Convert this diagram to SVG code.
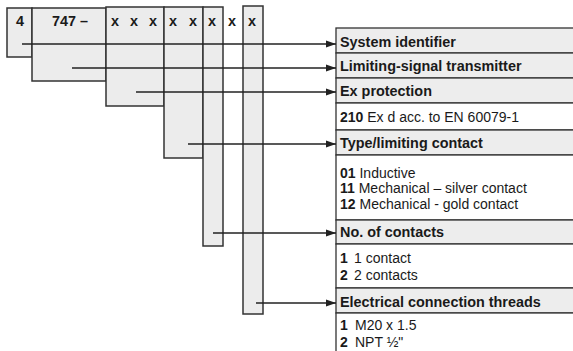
<svg xmlns="http://www.w3.org/2000/svg" width="573" height="351" viewBox="0 0 573 351">
<defs>
<style>
.box{fill:#ececec;stroke:#333;stroke-width:1.5}
.hdr{fill:#ededed;stroke:#333;stroke-width:1.3}
.row{fill:#fff;stroke:#333;stroke-width:1.3}
.t{font-family:"Liberation Sans",Arial,sans-serif;font-size:14px;fill:#1a1a1a}
.b{font-weight:bold}
.h{font-size:14.4px}
.con{stroke:#222;stroke-width:1.5;fill:none;marker-end:url(#ah)}
</style>
<marker id="ah" markerWidth="10" markerHeight="8" refX="10" refY="4" orient="auto" markerUnits="userSpaceOnUse">
<path d="M0,0.5 L10,4 L0,7.5 Z" fill="#222"/>
</marker>
</defs>
<rect width="573" height="351" fill="#fff"/>
<g id="code">
<g id="c1"><rect class="box" x="7" y="8" width="25" height="49"/><text class="t b h" x="20" y="26" text-anchor="middle">4</text></g>
<g id="c2"><rect class="box" x="32" y="8" width="74" height="73"/><text class="t b h" x="52" y="26">747 –</text></g>
<g id="c3"><rect class="box" x="106" y="7" width="58" height="99"/><text class="t b h" x="115" y="26" text-anchor="middle">x</text><text class="t b h" x="134" y="26" text-anchor="middle">x</text><text class="t b h" x="153" y="26" text-anchor="middle">x</text></g>
<g id="c4"><rect class="box" x="164" y="7" width="39" height="151"/><text class="t b h" x="173" y="26" text-anchor="middle">x</text><text class="t b h" x="193" y="26" text-anchor="middle">x</text></g>
<g id="c5"><rect class="box" x="203" y="7" width="20" height="239"/><text class="t b h" x="212" y="26" text-anchor="middle">x</text></g>
<g id="c5b"><text class="t b h" x="232" y="26" text-anchor="middle">x</text></g>
<g id="c6"><rect class="box" x="243" y="6" width="20" height="308"/><text class="t b h" x="252" y="26" text-anchor="middle">x</text></g>
</g>
<g id="table">
<g id="r1"><rect class="hdr" x="336" y="28" width="240" height="25"/><text class="t b h" x="340" y="47">System identifier</text></g>
<g id="r2"><rect class="hdr" x="336" y="53" width="240" height="25"/><text class="t b h" x="340" y="71">Limiting-signal transmitter</text></g>
<g id="r3"><rect class="hdr" x="336" y="78" width="240" height="25"/><text class="t b h" x="340" y="96">Ex protection</text></g>
<g id="r4"><rect class="row" x="336" y="103" width="240" height="27"/><text class="t" x="340" y="122"><tspan class="b">210</tspan> Ex d acc. to EN 60079-1</text></g>
<g id="r5"><rect class="hdr" x="336" y="130" width="240" height="25"/><text class="t b h" x="340" y="148">Type/limiting contact</text></g>
<g id="r6"><rect class="row" x="336" y="155" width="240" height="65"/>
<text class="t" x="340" y="178"><tspan class="b">01</tspan> Inductive</text>
<text class="t" x="340" y="193"><tspan class="b">11</tspan> Mechanical – silver contact</text>
<text class="t" x="340" y="209"><tspan class="b">12</tspan> Mechanical - gold contact</text></g>
<g id="r7"><rect class="hdr" x="336" y="220" width="240" height="24"/><text class="t b h" x="340" y="237">No. of contacts</text></g>
<g id="r8"><rect class="row" x="336" y="244" width="240" height="44"/>
<text class="t b" x="340" y="263">1</text><text class="t" x="354" y="263">1 contact</text>
<text class="t b" x="340" y="280">2</text><text class="t" x="354" y="280">2 contacts</text></g>
<g id="r9"><rect class="hdr" x="336" y="288" width="240" height="25"/><text class="t b h" x="340" y="307">Electrical connection threads</text></g>
<g id="r10"><rect class="row" x="336" y="313" width="240" height="45"/>
<text class="t b" x="340" y="330">1</text><text class="t" x="355" y="330">M20 x 1.5</text>
<text class="t b" x="340" y="347">2</text><text class="t" x="355" y="347">NPT ½"</text></g>
</g>
<g id="connectors">
<path class="con" d="M22,44 H336"/>
<path class="con" d="M72,68 H336"/>
<path class="con" d="M136,92 H336"/>
<path class="con" d="M188,144 H336"/>
<path class="con" d="M213,233 H336"/>
<path class="con" d="M256,303 H336"/>
</g>
</svg>
